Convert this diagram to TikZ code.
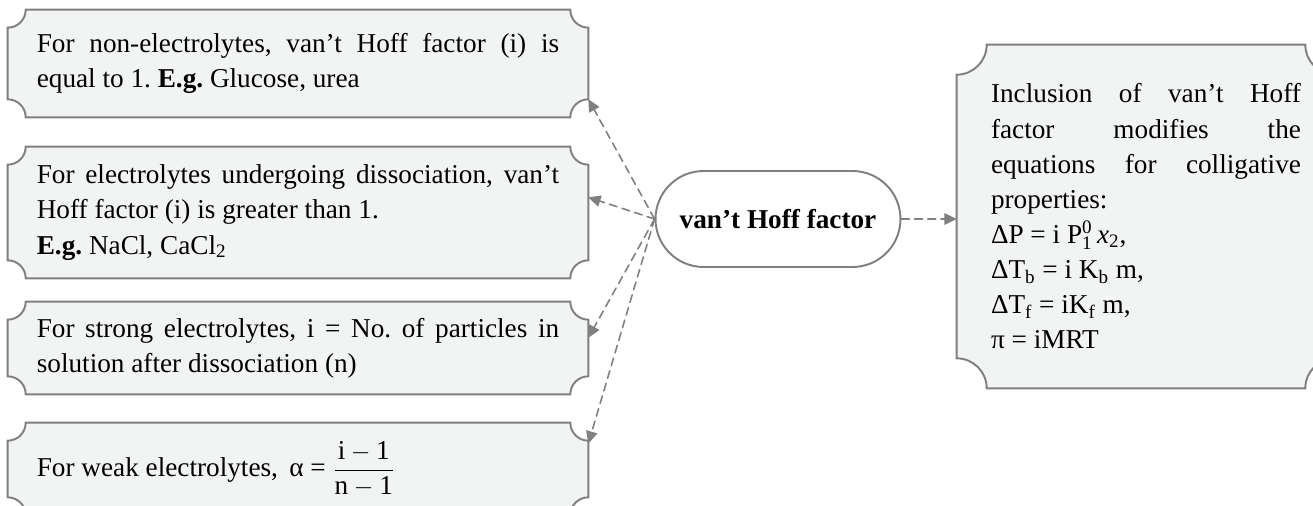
\documentclass[tikz,border=0pt]{standalone}
\usepackage{amsmath}
\usepackage{fontspec}
\setmainfont{Liberation Serif}
\usetikzlibrary{arrows.meta,calc,backgrounds}

\definecolor{boxfill}{RGB}{242,243,243}
\definecolor{edgegray}{RGB}{127,127,127}
\definecolor{linkgray}{RGB}{128,128,128}

% outline with concave corners round a named node
\newcommand{\notchframe}[2]{%
	\draw[frame]
	($(#1.north west)+(#2,0pt)$) -- ($(#1.north east)+(-#2,0pt)$)
	arc[start angle=180, end angle=270, radius=#2]
	-- ($(#1.south east)+(0pt,#2)$)
	arc[start angle=90, end angle=180, radius=#2]
	-- ($(#1.south west)+(#2,0pt)$)
	arc[start angle=0, end angle=90, radius=#2]
	-- ($(#1.north west)+(0pt,-#2)$)
	arc[start angle=270, end angle=360, radius=#2]
	-- cycle;%
}

\begin{document}
\frenchspacing
\begin{tikzpicture}[
		x=0.02cm, y=-0.02cm,
		every node/.style={font=\fontsize{15.5}{20}\selectfont},
		line cap=round,
		line join=round,
		frame/.style={draw=edgegray, fill=boxfill, line width=1.1pt},
		notebox/.style={minimum width=11.6cm, text width=10.45cm, align=justify, inner sep=0pt},
		hub/.style={draw=edgegray, fill=white, line width=1.1pt, rounded corners=0.96cm,
			minimum width=4.9cm, minimum height=1.92cm, font=\fontsize{15.5}{20}\selectfont\bfseries},
		link/.style={draw=linkgray, line width=0.9pt, dash pattern=on 4.5pt off 3pt,
			-{Triangle[length=7pt, width=6.5pt]}}
		]
		% =========================
		% Corner radii
		% =========================
		\def\Rs{0.36cm}
		\def\Rl{0.6cm}
		
		\useasboundingbox (0,0) rectangle (1313,506);
		
		% --------------------------------
		% Left column of notes
		% --------------------------------
		\node[notebox, minimum height=2.14cm] (nonel) at (298,63.5)
		{For non-electrolytes, van't Hoff factor (i) is\linebreak
			equal to 1. \textbf{E.g.} Glucose, urea};
		
		\node[notebox, minimum height=2.62cm] (diss) at (298,212.5)
		{For electrolytes undergoing dissociation, van't\linebreak
			Hoff factor (i) is greater than 1.\par
			\textbf{E.g.} NaCl, CaCl\textsubscript{2}};
		
		\node[notebox, minimum height=1.84cm] (strong) at (298,348)
		{For strong electrolytes, i = No. of particles in\linebreak
			solution after dissociation (n)};
		
		\node[notebox, minimum height=1.84cm] (weak) at (298,469)
		{For weak electrolytes,\, α = $\dfrac{\text{i}-\text{1}}{\text{n}-\text{1}}$};
		
		% --------------------------------
		% Central term
		% --------------------------------
		\node[hub] (vhf) at (778,219) {van't Hoff factor};
		
		% --------------------------------
		% Right note
		% --------------------------------
		\node[notebox, text width=6.2cm, minimum width=7.56cm, minimum height=6.86cm] (incl) at (1146,216.5)
		{Inclusion of van't Hoff\linebreak
			factor modifies the\linebreak
			equations for colligative\linebreak
			properties:\par
			ΔP = i $\text{P}_{\text{1}}^{\text{0}}$\,\textit{x}\textsubscript{2},\par
			ΔT\textsubscript{b} = i K\textsubscript{b} m,\par
			ΔT\textsubscript{f} = iK\textsubscript{f} m,\par
			π = iMRT};
		
		% --------------------------------
		% Frames, behind the text
		% --------------------------------
		\begin{scope}[on background layer]
			\foreach \n in {nonel,diss,strong,weak}
			{
				\notchframe{\n}{\Rs}
			}
			\notchframe{incl}{\Rl}
		\end{scope}
		
		% --------------------------------
		% Dashed links
		% --------------------------------
		\draw[link] (vhf.west) -- (nonel.-7);
		\draw[link] (vhf.west) -- (diss.3);
		\draw[link] (vhf.west) -- (strong.2.5);
		\draw[link] (vhf.west) -- (weak.5);
		\draw[link] (vhf.east) -- (vhf.east -| incl.west);
		
	\end{tikzpicture}
\end{document}
